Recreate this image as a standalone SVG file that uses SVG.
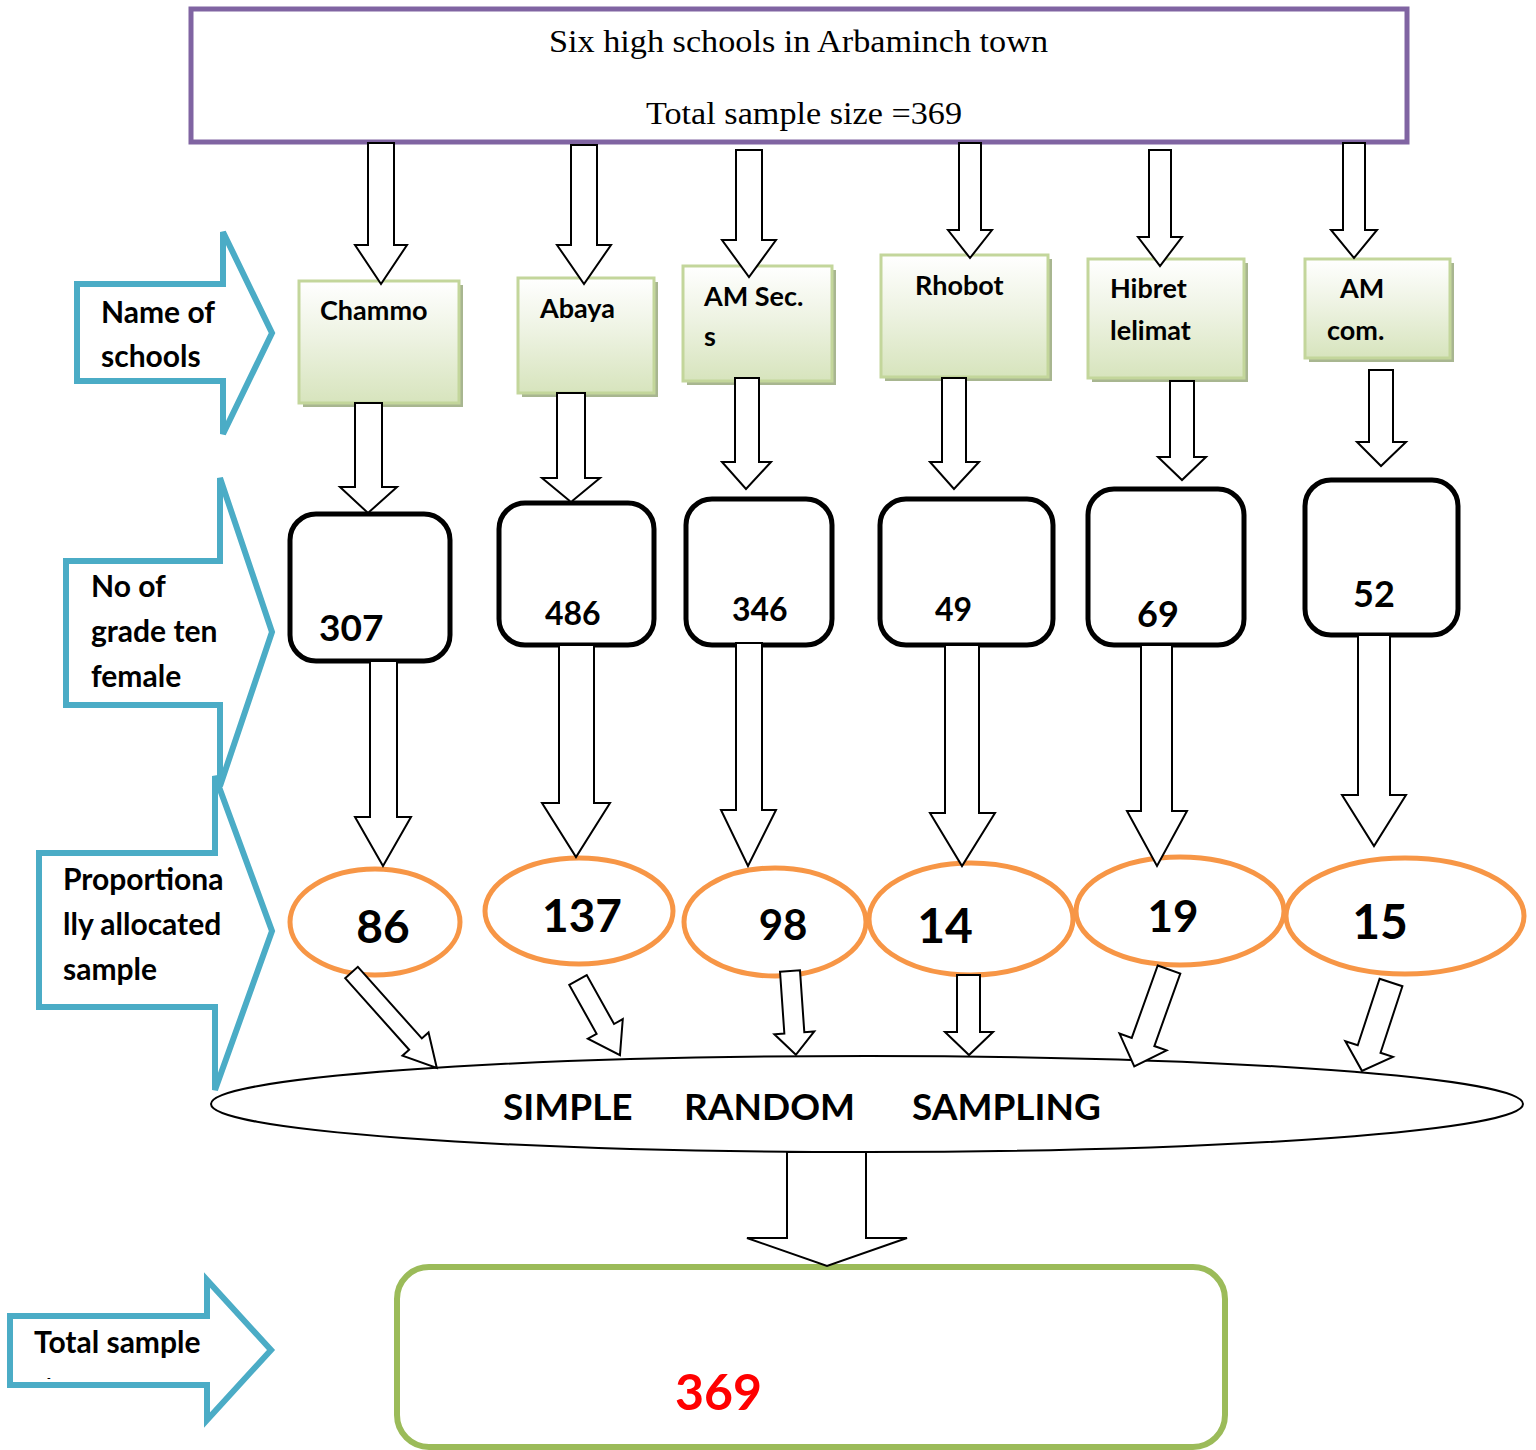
<svg xmlns="http://www.w3.org/2000/svg" width="1536" height="1450" viewBox="0 0 1536 1450">
<defs>
<linearGradient id="gg" x1="0" y1="0" x2="0" y2="1">
<stop offset="0" stop-color="#FFFFFF"/>
<stop offset="0.45" stop-color="#EEF3E3"/>
<stop offset="1" stop-color="#D7E4BD"/>
</linearGradient>
<style>
.lbl{font-family:Lato,"Liberation Sans",sans-serif;font-weight:700;fill:#000}
.call{fill:#fff;stroke:#4BACC6;stroke-width:6;stroke-linejoin:miter}
.gbox{fill:url(#gg);stroke:#C3D69B;stroke-width:3}
.shad{fill:#A8B690}
.nbox{fill:#fff;stroke:#000;stroke-width:5}
.oval{fill:#fff;stroke:#F79646;stroke-width:5}
.arr{fill:#fff;stroke:#000;stroke-width:2;stroke-linejoin:miter}
.title{font-family:"Liberation Serif",serif;font-size:32px;fill:#000}
</style>
</defs>
<rect width="1536" height="1450" fill="#fff"/>

<g id="top">
<rect x="191" y="9" width="1216" height="133" fill="#fff" stroke="#8064A2" stroke-width="5"/>
<text class="title" x="549" y="52" textLength="499" lengthAdjust="spacingAndGlyphs">Six high schools in Arbaminch town</text>
<text class="title" x="646" y="124" textLength="316" lengthAdjust="spacingAndGlyphs">Total sample size =369</text>
</g>

<g id="label-names">
<polygon class="call" points="77,284 223,284 223,232 272,333 223,434 223,381 77,381"/>
<text class="lbl" font-size="30" x="101" y="323">Name of</text>
<text class="lbl" font-size="30" x="101" y="367">schools</text>
</g>
<g id="label-number">
<polygon class="call" points="66,561 220,561 220,478 272,632 220,786 220,705 66,705"/>
<text class="lbl" font-size="30" x="91" y="597">No of</text>
<text class="lbl" font-size="30" x="91" y="642">grade ten</text>
<text class="lbl" font-size="30" x="91" y="687">female</text>
</g>
<g id="label-prop">
<polygon class="call" points="39,853 215,853 215,776 272,931 215,1090 215,1007 39,1007"/>
<text class="lbl" font-size="30" x="63" y="890">Proportiona</text>
<text class="lbl" font-size="30" x="63" y="935">lly allocated</text>
<text class="lbl" font-size="30" x="63" y="980">sample</text>
</g>
<g id="label-total">
<polygon class="call" points="10,1316 207,1316 207,1280 271,1350 207,1420 207,1385 10,1385"/>
<text class="lbl" font-size="30" x="34" y="1353">Total sample</text>
<text class="lbl" font-size="10" x="47" y="1381">-</text>
</g>

<g id="school-chammo">
<rect class="shad" x="303" y="285" width="160" height="122"/>
<rect class="gbox" x="299" y="281" width="160" height="122"/>
<text class="lbl" font-size="27" x="320" y="320">Chammo</text>
</g>
<g id="school-abaya">
<rect class="shad" x="522" y="282" width="136" height="115"/>
<rect class="gbox" x="518" y="278" width="136" height="115"/>
<text class="lbl" font-size="27" x="540" y="318">Abaya</text>
</g>
<g id="school-amsec">
<rect class="shad" x="687" y="270" width="149" height="115"/>
<rect class="gbox" x="683" y="266" width="149" height="115"/>
<text class="lbl" font-size="27" x="704" y="306">AM Sec.</text>
<text class="lbl" font-size="27" x="704" y="346">s</text>
</g>
<g id="school-rhobot">
<rect class="shad" x="885" y="259" width="167" height="122"/>
<rect class="gbox" x="881" y="255" width="167" height="122"/>
<text class="lbl" font-size="27" x="915" y="295">Rhobot</text>
</g>
<g id="school-hibret">
<rect class="shad" x="1092" y="263" width="156" height="119"/>
<rect class="gbox" x="1088" y="259" width="156" height="119"/>
<text class="lbl" font-size="27" x="1110" y="298">Hibret</text>
<text class="lbl" font-size="27" x="1110" y="340">lelimat</text>
</g>
<g id="school-amcom">
<rect class="shad" x="1309" y="263" width="145" height="99"/>
<rect class="gbox" x="1305" y="259" width="145" height="99"/>
<text class="lbl" font-size="27" x="1340" y="298">AM</text>
<text class="lbl" font-size="27" x="1327" y="340">com.</text>
</g>

<g id="count-307">
<rect class="nbox" x="290" y="514" width="160" height="147" rx="26"/>
<text class="lbl" font-size="37" x="319" y="641">307</text>
</g>
<g id="count-486">
<rect class="nbox" x="499" y="503" width="155" height="142" rx="26"/>
<text class="lbl" font-size="32" x="545" y="625">486</text>
</g>
<g id="count-346">
<rect class="nbox" x="686" y="499" width="146" height="146" rx="26"/>
<text class="lbl" font-size="32" x="732" y="621">346</text>
</g>
<g id="count-49">
<rect class="nbox" x="880" y="499" width="173" height="146" rx="26"/>
<text class="lbl" font-size="32" x="935" y="621">49</text>
</g>
<g id="count-69">
<rect class="nbox" x="1088" y="489" width="156" height="156" rx="26"/>
<text class="lbl" font-size="36" x="1137" y="627">69</text>
</g>
<g id="count-52">
<rect class="nbox" x="1305" y="480" width="153" height="155" rx="26"/>
<text class="lbl" font-size="36" x="1353" y="607">52</text>
</g>

<g id="alloc-86">
<ellipse class="oval" cx="375" cy="922" rx="85" ry="53"/>
<text class="lbl" font-size="46" x="383" y="943" text-anchor="middle">86</text>
</g>
<g id="alloc-137">
<ellipse class="oval" cx="579" cy="911" rx="94" ry="53"/>
<text class="lbl" font-size="46" x="582" y="932" text-anchor="middle">137</text>
</g>
<g id="alloc-98">
<ellipse class="oval" cx="775" cy="922" rx="91" ry="54"/>
<text class="lbl" font-size="42" x="783" y="940" text-anchor="middle">98</text>
</g>
<g id="alloc-14">
<ellipse class="oval" cx="971" cy="919" rx="102" ry="56"/>
<text class="lbl" font-size="48" x="945" y="943" text-anchor="middle">14</text>
</g>
<g id="alloc-19">
<ellipse class="oval" cx="1180" cy="911" rx="104" ry="54"/>
<text class="lbl" font-size="44" x="1173" y="932" text-anchor="middle">19</text>
</g>
<g id="alloc-15">
<ellipse class="oval" cx="1405" cy="916" rx="119" ry="58"/>
<text class="lbl" font-size="48" x="1380" y="939" text-anchor="middle">15</text>
</g>

<g id="srs">
<ellipse cx="867" cy="1104" rx="656" ry="48" fill="#fff" stroke="#000" stroke-width="2"/>
<text class="lbl" font-size="37" x="503" y="1120">SIMPLE</text>
<text class="lbl" font-size="37" x="684" y="1120">RANDOM</text>
<text class="lbl" font-size="37" x="912" y="1120">SAMPLING</text>
</g>

<g id="total">
<rect x="397" y="1267" width="828" height="180" rx="32" fill="#fff" stroke="#9BBB59" stroke-width="6"/>
<text class="lbl" font-size="50" x="675" y="1410" style="fill:#FF0000">369</text>
</g>

<g id="connectors">
<polygon class="arr" points="368,143 394,143 394,245 407,245 381,284 355,245 368,245"/>
<polygon class="arr" points="571,145 597,145 597,245 611,245 584,284 557,245 571,245"/>
<polygon class="arr" points="736,150 762,150 762,240 776,240 749,277 722,240 736,240"/>
<polygon class="arr" points="959,143 981,143 981,230 992,230 970,258 948,230 959,230"/>
<polygon class="arr" points="1149,150 1171,150 1171,237 1182,237 1160,266 1138,237 1149,237"/>
<polygon class="arr" points="1343,143 1365,143 1365,230 1377,230 1354,258 1331,230 1343,230"/>

<polygon class="arr" points="355,403 382,403 382,487 397,487 368,513 340,487 355,487"/>
<polygon class="arr" points="557,393 585,393 585,478 600,478 571,502 542,478 557,478"/>
<polygon class="arr" points="735,378 759,378 759,462 771,462 746,489 722,462 735,462"/>
<polygon class="arr" points="942,378 966,378 966,462 979,462 954,489 930,462 942,462"/>
<polygon class="arr" points="1170,381 1194,381 1194,457 1206,457 1182,480 1158,457 1170,457"/>
<polygon class="arr" points="1369,370 1393,370 1393,442 1406,442 1381,466 1357,442 1369,442"/>

<polygon class="arr" points="370,661 397,661 397,817 411,817 383,866 355,817 370,817"/>
<polygon class="arr" points="559,645 594,645 594,803 610,803 576,857 542,803 559,803"/>
<polygon class="arr" points="736,643 762,643 762,810 776,810 748,866 721,810 736,810"/>
<polygon class="arr" points="945,645 979,645 979,813 995,813 962,866 930,813 945,813"/>
<polygon class="arr" points="1141,645 1172,645 1172,811 1187,811 1157,866 1127,811 1141,811"/>
<polygon class="arr" points="1358,635 1390,635 1390,795 1406,795 1374,846 1342,795 1358,795"/>

<polygon class="arr" transform="translate(351.5,972.5) rotate(-41.8)" points="-8.5,0 8.5,0 8.5,96 17.5,96 0,128 -17.5,96 -8.5,96"/>
<polygon class="arr" transform="translate(578,980) rotate(-29.2)" points="-10,0 10,0 10,56 20,56 0,86 -20,56 -10,56"/>
<polygon class="arr" transform="translate(790,971) rotate(-4)" points="-10,0 10,0 10,62 20,62 0,84 -20,62 -10,62"/>
<polygon class="arr" points="957,975 980,975 980,1032 993,1032 969,1055 945,1032 957,1032"/>
<polygon class="arr" transform="translate(1169,969.5) rotate(19.7)" points="-12,0 12,0 12,77 25,77 0,103 -25,77 -12,77"/>
<polygon class="arr" transform="translate(1391,982.5) rotate(18.2)" points="-12,0 12,0 12,70 25,70 0,93 -25,70 -12,70"/>

<polygon class="arr" points="787,1152 866,1152 866,1238 907,1238 827,1266 747,1238 787,1238"/>
</g>
</svg>
